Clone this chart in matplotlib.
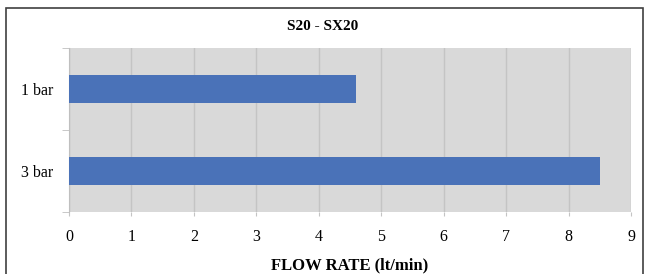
import matplotlib.pyplot as plt
from matplotlib.patches import Rectangle

# data
categories = ["1 bar", "3 bar"]
flow_rates = [4.6, 8.5]
x_ticks = list(range(0, 10))

plt.rcParams['font.family'] = ['Liberation Serif', 'DejaVu Serif']

fig = plt.figure(figsize=(6.45, 2.74), dpi=100)
# outer chart frame
fig.patches.append(Rectangle((6 / 645, -0.01), 637 / 645, 1 - 8 / 274 + 0.01,
                             transform=fig.transFigure, fill=False,
                             edgecolor="#404040", linewidth=1.2))

ax = fig.add_axes([69 / 645, 1 - 212 / 274, (631 - 69) / 645, (212 - 48) / 274])
ax.set_facecolor("#d9d9d9")

ypos = list(range(len(categories)))
ax.barh(ypos, flow_rates, height=1 / 3, color="#4a72b8", zorder=3)
ax.set_ylim(len(categories) - 0.5, -0.5)
ax.set_xlim(0, 9)

ax.set_xticks(x_ticks)
ax.set_xticklabels([str(t) for t in x_ticks], fontsize=11.5)
ax.set_yticks(ypos)
ax.set_yticklabels(categories, fontsize=11.5)
ax.tick_params(axis="y", length=0, pad=11)
ax.tick_params(axis="x", length=3, color="#c4c4c4", pad=9)

# category separator ticks on the left axis
ax.set_yticks([-0.5, 0.5, 1.5], minor=True)
ax.tick_params(axis="y", which="minor", length=5, color="#bfbfbf")

ax.grid(axis="x", color="#c4c4c4", linewidth=1, zorder=1)
for side in ["top", "right", "bottom"]:
    ax.spines[side].set_visible(False)
ax.spines["left"].set_color("#bfbfbf")

ax.set_xlabel("FLOW RATE (lt/min)", fontsize=12, fontweight="bold", labelpad=9)
fig.text(0.5, 1 - 27 / 274, "S20 - SX20", ha="center", va="center",
         fontsize=11, fontweight="bold")

fig.savefig("out.png", dpi=100)
